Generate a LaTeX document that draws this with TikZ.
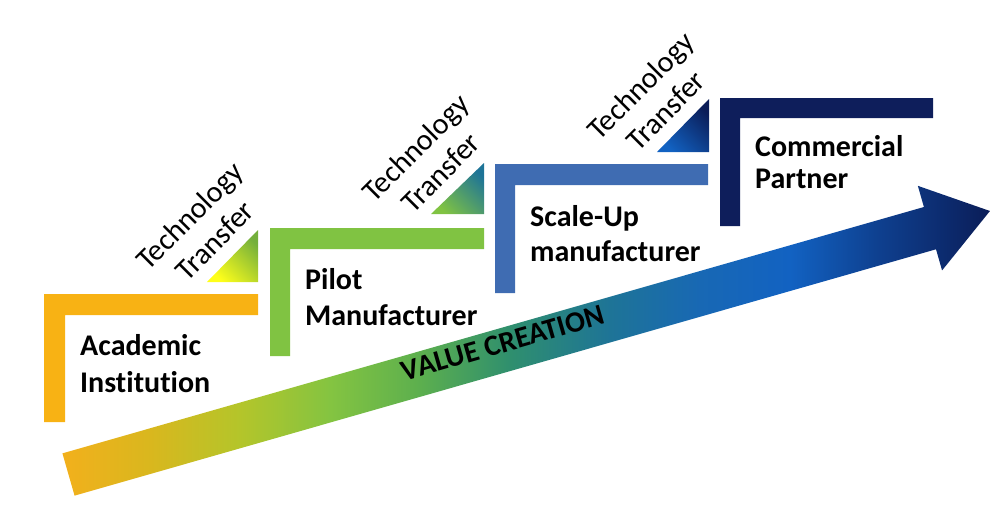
\documentclass[tikz,border=0pt]{standalone}
\usepackage{fontspec}
\setmainfont{Carlito}[Ligatures=NoCommon]
\usetikzlibrary{shadings}
\definecolor{cOrange}{HTML}{F8B214}
\definecolor{cGreen}{HTML}{80C342}
\definecolor{cBlue}{HTML}{3F6CB2}
\definecolor{cNavy}{HTML}{0E1E5B}
\definecolor{a0}{HTML}{F2B01C}
\definecolor{a1}{HTML}{D9B71E}
\definecolor{a2}{HTML}{B4C52A}
\definecolor{a3}{HTML}{84C441}
\definecolor{a4}{HTML}{5CAF4E}
\definecolor{a5}{HTML}{2F8F6E}
\definecolor{a6}{HTML}{1E7497}
\definecolor{a7}{HTML}{1868B4}
\definecolor{a8}{HTML}{1262C2}
\definecolor{a9}{HTML}{0E3F8E}
\definecolor{a10}{HTML}{0B1D58}
\pgfdeclarehorizontalshading{valueshade}{100bp}{%
  color(0bp)=(a0); color(25bp)=(a0); color(29.72bp)=(a1); color(34.57bp)=(a2);
  color(39.42bp)=(a3); color(44.28bp)=(a4); color(49.13bp)=(a5); color(54.52bp)=(a6);
  color(59.37bp)=(a7); color(64.22bp)=(a8); color(69.07bp)=(a9); color(75bp)=(a10); color(100bp)=(a10)}
\tikzset{
  bracket/.style={fill=#1, draw=none},
  tri/.style 2 args={draw=none, top color=#2, bottom color=#1, shading angle=-45},
  label/.style={align=left, inner sep=0pt, anchor=base west},
  ttlabel/.style={font=\fontsize{30}{35}\selectfont, align=center, inner sep=0pt, rotate=45},
}
\begin{document}
\begin{tikzpicture}[x=1pt,y=-1pt]
\useasboundingbox (0,0) rectangle (1004,517);
% arrow
\coordinate (p1) at (62.45,453.35);
\coordinate (p2) at (923.91,206.99);
\coordinate (p3) at (917.86,185.84);
\coordinate (p4) at (989.95,210.99);
\coordinate (p5) at (942.06,270.44);
\coordinate (p6) at (936.01,249.29);
\coordinate (p7) at (74.55,495.65);
\shade[shading=valueshade] (p1) -- (p2) -- (p3) -- (p4) -- (p5) -- (p6) -- (p7) -- cycle;
\node[font=\fontsize{29.5}{34}\selectfont\bfseries, rotate=16, inner sep=0pt] (vc) at (503,343) {VALUE CREATION};
% brackets
\fill[bracket=cOrange] (44,294) -- (258,294) -- (258,315) -- (65,315) -- (65,422) -- (44,422) -- cycle;
\fill[bracket=cGreen] (270,228) -- (484,228) -- (484,249) -- (290,249) -- (290,356) -- (270,356) -- cycle;
\fill[bracket=cBlue] (495,164) -- (708,164) -- (708,185) -- (515,185) -- (515,293) -- (495,293) -- cycle;
\fill[bracket=cNavy] (720,98) -- (933,98) -- (933,118) -- (740,118) -- (740,226) -- (720,226) -- cycle;
% triangles
\shade[tri={yellow!90!white}{cGreen!90!black}] (207,282) -- (258,282) -- (258,230) -- cycle;
\shade[tri={cGreen}{a6}] (431,214) -- (484,214) -- (484,163) -- cycle;
\shade[tri={a8}{a10}] (657,152) -- (709,152) -- (709,99) -- cycle;
% labels (anchor = baseline of last line)
\node[label, font=\fontsize{30}{37}\selectfont\bfseries] (acad) at (80,392) {Academic\\Institution};
\node[label, font=\fontsize{30}{36}\selectfont\bfseries] (pilot) at (305,325) {Pilot\\Manufacturer};
\node[label, font=\fontsize{30}{35}\selectfont\bfseries] (scale) at (530,261) {Scale-Up\\manufacturer};
\node[label, font=\fontsize{30}{32}\selectfont\bfseries] (comm) at (755,188) {Commercial\\Partner};
\node[ttlabel] (tt1) at (202,228) {Technology\\Transfer};
\node[ttlabel] (tt2) at (428,160) {Technology\\Transfer};
\node[ttlabel] (tt3) at (653,98) {Technology\\Transfer};
\end{tikzpicture}
\end{document}
